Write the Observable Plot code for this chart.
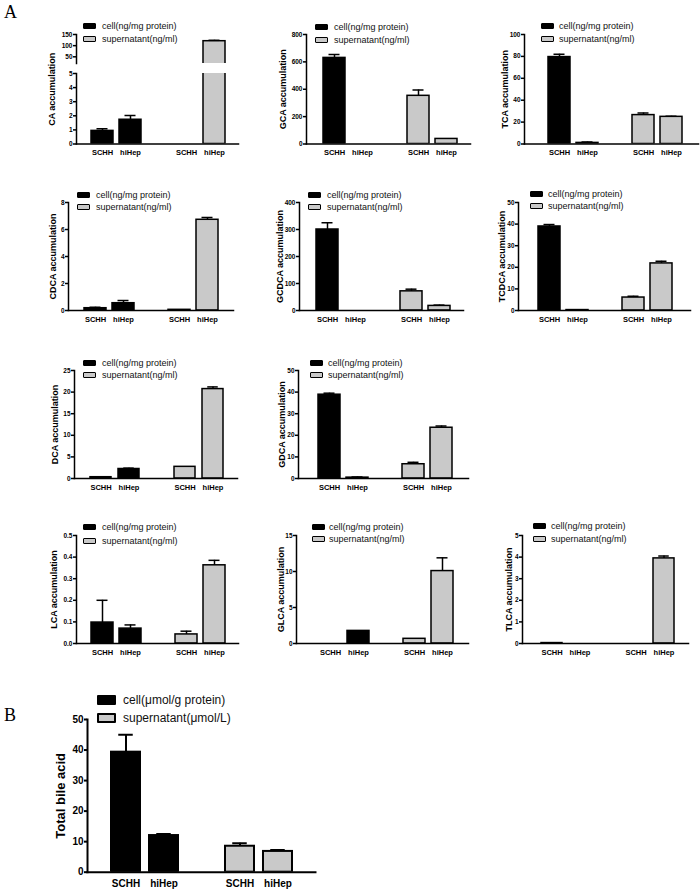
<!DOCTYPE html>
<html><head><meta charset="utf-8">
<script src="https://cdn.jsdelivr.net/npm/d3@7"></script>
<script src="https://cdn.jsdelivr.net/npm/@observablehq/plot@0.6"></script>
<style>
body{margin:0;background:#fff;}
#fig{position:relative;width:700px;height:890px;overflow:hidden;font-family:"Liberation Sans",Arial,sans-serif;background:#fff;}
.abs{position:absolute;white-space:nowrap;}
</style></head><body><div id="fig"></div>
<script>
// ---- data ----
const fractions = ["cell", "supernatant"];
const cellTypes = ["SCHH", "hiHep"];
// value order: cell SCHH, cell hiHep, supernatant SCHH, supernatant hiHep
const CA = [0.93, 1.72, 0, 120];
const CA_err = [0.15, 0.3, 0, 4];
const GCA = [629, 0, 352, 37];
const GCA_err = [25, 0, 42, 0];
const TCA = [79.4, 1.0, 26.4, 24.8];
const TCA_err = [2.5, 0.8, 1.8, 0.6];
const CDCA = [0.17, 0.54, 0.05, 6.72];
const CDCA_err = [0.07, 0.2, 0, 0.17];
const GCDCA = [300, 0, 71, 17];
const GCDCA_err = [25, 0, 8, 3];
const TCDCA = [38.9, 0.2, 6.0, 21.8];
const TCDCA_err = [0.9, 0, 0.6, 1.0];
const DCA = [0.3, 2.2, 2.7, 20.7];
const DCA_err = [0, 0.2, 0, 0.5];
const GDCA = [38.8, 0.4, 6.6, 23.5];
const GDCA_err = [0.7, 0.3, 0.9, 0.8];
const LCA = [0.097, 0.069, 0.042, 0.362];
const LCA_err = [0.103, 0.017, 0.015, 0.023];
const GLCA = [0, 1.75, 0.65, 10.06];
const GLCA_err = [0, 0, 0, 1.84];
const TLCA = [0.02, 0, 0, 3.94];
const TLCA_err = [0, 0, 0, 0.11];
const TBA = [39.3, 12.0, 8.5, 6.8];
const TBA_err = [5.7, 0.5, 1.0, 0.5];
const legendNg = ["cell(ng/mg protein)", "supernatant(ng/ml)"];
const legendUmol = ["cell(μmol/g protein)", "supernatant(μmol/L)"];

// ---- helpers ----
const fig = document.getElementById("fig");
const GRAY = "#c9c9c9";
const keyDomain = [fractions[0] + "|" + cellTypes[0], fractions[0] + "|" + cellTypes[1], "gap",
                   fractions[1] + "|" + cellTypes[0], fractions[1] + "|" + cellTypes[1]];
function makeRows(values, errs) {
  const rows = [];
  fractions.forEach((f, i) => cellTypes.forEach((t, j) => {
    const k = i * 2 + j;
    rows.push({key: f + "|" + t, fraction: f, type: t, value: values[k], err: errs[k]});
  }));
  return rows;
}
function panel(o) {
  const ml = o.ml ?? 45, mr = 8, mt = o.mt ?? 10, mb = o.mb ?? 24;
  const W = o.right - o.left, H = o.bottom - o.top;
  const step = (o.c4 - o.c0) / 4;
  const sw = o.sw ?? 1.5;
  const data = makeRows(o.values, o.errs);
  const withErr = data.filter(d => d.err > 0);
  const marks = [
    Plot.barY(data, {x: "key", y: "value", fill: d => d.fraction === "cell" ? "black" : GRAY,
      stroke: "black", strokeWidth: sw, clip: true}),
    Plot.ruleX(withErr, {x: "key", y1: "value", y2: d => d.value + d.err, strokeWidth: sw, clip: true}),
    Plot.tickY(withErr, {x: "key", y: d => d.value + d.err, insetLeft: o.bw / 4, insetRight: o.bw / 4,
      strokeWidth: sw, clip: true}),
    Plot.axisY({ticks: o.ticks, tickFormat: o.fmt ?? (d => d), tickSize: 3, tickPadding: 1,
      fontSize: o.fs ?? 6.5, fontWeight: "bold", strokeWidth: sw, label: null}),
    Plot.frame({anchor: "left", strokeWidth: sw})
  ];
  if (!o.noX) {
    marks.push(Plot.axisX({tickSize: 0, tickPadding: o.xpad ?? 6, fontSize: o.xfs ?? 7.5, fontWeight: "bold",
      tickFormat: k => k === "gap" ? "" : k.split("|")[1], label: null}));
    marks.push(Plot.frame({anchor: "bottom", strokeWidth: sw}));
  }
  if (o.label) {
    marks.push(Plot.text([o.label], {frameAnchor: "left", textAnchor: "middle", lineAnchor: "middle",
      dx: -o.labelOff, dy: o.labelDy ?? 0, rotate: -90,
      text: d => d, fontSize: o.lfs ?? 9, fontWeight: "bold"}));
  }
  const chart = Plot.plot({
    width: W + ml + mr, height: H + mt + mb,
    marginLeft: ml, marginRight: mr, marginTop: mt, marginBottom: mb,
    style: {background: "transparent", fontFamily: "'Liberation Sans', Arial, sans-serif", color: "black", overflow: "visible"},
    x: {type: "band", domain: keyDomain, axis: o.noX ? null : undefined,
        range: [ml + (o.c0 - o.bw / 2 - o.left), ml + (o.c4 + o.bw / 2 - o.left)],
        paddingInner: 1 - o.bw / step, paddingOuter: 0, align: 0.5},
    y: {domain: o.domain},
    marks
  });
  chart.style.position = "absolute";
  chart.style.left = (o.left - ml) + "px";
  chart.style.top = (o.top - mt) + "px";
  fig.appendChild(chart);
}
function legend(o) {
  const fs = o.fs ?? 9, w = o.w ?? 13, h = o.h ?? 6;
  o.labels.forEach((t, i) => {
    const cy = i ? o.y2 : o.y1;
    const s = document.createElement("div");
    s.className = "abs";
    Object.assign(s.style, {left: o.x + "px", top: (cy - h / 2) + "px", width: w + "px", height: h + "px",
      background: i ? GRAY : "#000", border: (o.bw ?? 1.3) + "px solid #000", boxSizing: "border-box", borderRadius: "1px"});
    fig.appendChild(s);
    const tx = document.createElement("div");
    tx.className = "abs";
    tx.textContent = t;
    Object.assign(tx.style, {left: o.tx + "px", top: (cy - fs) + "px", height: (2 * fs) + "px",
      lineHeight: (2 * fs) + "px", fontSize: fs + "px", color: "#111"});
    fig.appendChild(tx);
  });
}
function letter(t, x, y) {
  const d = document.createElement("div");
  d.className = "abs";
  d.textContent = t;
  Object.assign(d.style, {left: x + "px", top: y + "px", fontFamily: "'Liberation Serif', 'Times New Roman', serif", fontSize: "18px", lineHeight: "18px"});
  fig.appendChild(d);
}

// ---- Panel A, row 1 ----
panel({values: CA, errs: CA_err, left: 76, right: 238, top: 73, bottom: 143.5, c0: 101.5, c4: 215, bw: 22,
  domain: [0, 5], ticks: d3.range(0, 6, 1), label: "CA accumulation", labelOff: 24, labelDy: -19.5, mt: 50});
panel({values: CA, errs: CA_err, left: 76, right: 238, top: 34, bottom: 63, c0: 101.5, c4: 215, bw: 22,
  domain: [20, 150], ticks: [50, 100, 150], noX: true, mb: 6});
panel({values: GCA, errs: GCA_err, left: 306, right: 470, top: 34, bottom: 143.5, c0: 333, c4: 446.5, bw: 22,
  domain: [0, 800], ticks: d3.range(0, 801, 200), label: "GCA accumulation", labelOff: 23});
panel({values: TCA, errs: TCA_err, left: 524, right: 698, top: 34, bottom: 143.5, c0: 558, c4: 672, bw: 22,
  domain: [0, 100], ticks: d3.range(0, 101, 20), label: "TCA accumulation", labelOff: 19});
// row 2
panel({values: CDCA, errs: CDCA_err, left: 68, right: 233, top: 202, bottom: 310, c0: 94, c4: 208.5, bw: 22,
  domain: [0, 8], ticks: d3.range(0, 9, 2), label: "CDCA accumulation", labelOff: 15});
panel({values: GCDCA, errs: GCDCA_err, left: 299, right: 463, top: 202, bottom: 310, c0: 326, c4: 439.5, bw: 22,
  domain: [0, 400], ticks: d3.range(0, 401, 100), label: "GCDCA accumulation", labelOff: 19});
panel({values: TCDCA, errs: TCDCA_err, left: 518, right: 690, top: 202, bottom: 310, c0: 548, c4: 661.5, bw: 22,
  domain: [0, 50], ticks: d3.range(0, 51, 10), label: "TCDCA accumulation", labelOff: 16});
// row 3
panel({values: DCA, errs: DCA_err, left: 74, right: 237, top: 370, bottom: 478, c0: 100, c4: 213, bw: 21,
  domain: [0, 25], ticks: d3.range(0, 26, 5), label: "DCA accumulation", labelOff: 19});
panel({values: GDCA, errs: GDCA_err, left: 298, right: 468, top: 370, bottom: 478, c0: 328, c4: 441, bw: 22,
  domain: [0, 50], ticks: d3.range(0, 51, 10), label: "GDCA accumulation", labelOff: 16});
// row 4
panel({values: LCA, errs: LCA_err, left: 76, right: 238, top: 535, bottom: 643, c0: 101.5, c4: 215, bw: 22,
  domain: [0, 0.5], ticks: [0, 0.1, 0.2, 0.3, 0.4, 0.5], fmt: d3.format(".1f"), label: "LCA accumulation", labelOff: 22});
panel({values: GLCA, errs: GLCA_err, left: 296, right: 468, top: 535, bottom: 643, c0: 330, c4: 442, bw: 22,
  domain: [0, 15], ticks: [0, 5, 10, 15], label: "GLCA accumulation", labelOff: 15});
panel({values: TLCA, errs: TLCA_err, left: 522, right: 688, top: 535, bottom: 643, c0: 551, c4: 663.5, bw: 21,
  domain: [0, 5], ticks: d3.range(0, 6, 1), label: "TLCA accumulation", labelOff: 13});
// ---- Panel B ----
panel({values: TBA, errs: TBA_err, left: 87, right: 315, top: 719, bottom: 871.7, c0: 124.5, c4: 278.5, bw: 29,
  domain: [0, 50], ticks: d3.range(0, 51, 10), label: "Total bile acid", labelOff: 27, fs: 10, xfs: 10, xpad: 8,
  lfs: 13, sw: 2, mb: 30});

// ---- legends ----
legend({labels: legendNg, x: 83, tx: 102, y1: 26, y2: 39});
legend({labels: legendNg, x: 315, tx: 334, y1: 27, y2: 40});
legend({labels: legendNg, x: 541, tx: 559, y1: 26, y2: 39});
legend({labels: legendNg, x: 77, tx: 96, y1: 195, y2: 207});
legend({labels: legendNg, x: 308, tx: 327, y1: 195, y2: 207});
legend({labels: legendNg, x: 530, tx: 548, y1: 194, y2: 206});
legend({labels: legendNg, x: 83, tx: 102, y1: 363, y2: 375});
legend({labels: legendNg, x: 310, tx: 328, y1: 363, y2: 375});
legend({labels: legendNg, x: 83, tx: 102, y1: 527, y2: 541});
legend({labels: legendNg, x: 312, tx: 329, y1: 527, y2: 539});
legend({labels: legendNg, x: 533, tx: 551, y1: 526, y2: 539});
legend({labels: legendUmol, x: 97, tx: 123, y1: 700, y2: 718, fs: 12, w: 19, h: 10, bw: 2});

letter("A", 4, 3);
letter("B", 4, 706);
</script></body></html>
